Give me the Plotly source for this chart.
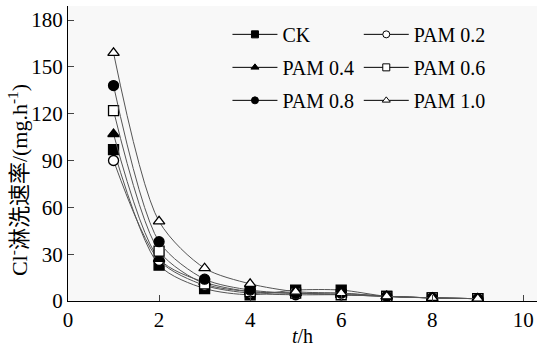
import plotly.graph_objects as go

t = [1, 2, 3, 4, 5, 6, 7, 8, 9]
ck = [97, 23, 8, 4, 7, 7, 3, 2, 1.5]
pam02 = [90, 26, 10, 5, 4, 4, 3, 2, 1.5]
pam04 = [107, 27, 12, 6, 5, 4, 3, 2, 1.5]
pam06 = [122, 32, 11, 6, 5, 4, 3, 2, 1.5]
pam08 = [138, 38, 14, 7, 5, 5, 3, 2, 1.5]
pam10 = [159, 51, 21, 11, 6, 5, 3, 2, 1.5]

names = ["CK", "PAM 0.2", "PAM 0.4", "PAM 0.6", "PAM 0.8", "PAM 1.0"]
series = [ck, pam02, pam04, pam06, pam08, pam10]
symbols = ["square", "circle", "triangle-up", "square", "circle", "triangle-up"]
fills = ["black", "white", "black", "white", "black", "white"]
legends = ["legend", "legend2", "legend", "legend2", "legend", "legend2"]

FONT = "Times New Roman, Liberation Serif, serif"
YFONT = "Times New Roman, Liberation Serif, Noto Sans CJK SC, serif"

fig = go.Figure()
for n, y, s, f in zip(names, series, symbols, fills):
    fig.add_trace(go.Scatter(
        x=t, y=y, name=n, mode="lines+markers", showlegend=False,
        line=dict(color="#555555", width=1, shape="spline", smoothing=0.8),
        marker=dict(symbol=s, size=10, color=f, line=dict(color="black", width=1.3)),
    ))
# legend entries (smaller markers, as in the reference legend)
for n, s, f, lg in zip(names, symbols, fills, legends):
    fig.add_trace(go.Scatter(
        x=[None], y=[None], name=n, mode="lines+markers",
        line=dict(color="black", width=1),
        marker=dict(symbol=s, size=7, color=f, line=dict(color="black", width=1)),
        legend=lg, legendgroup=n,
    ))

leg_common = dict(font=dict(family=FONT, size=20, color="black"), bgcolor="rgba(0,0,0,0)",
                  tracegroupgap=4, yanchor="top", xanchor="left", itemwidth=45)
fig.update_layout(
    width=537, height=347,
    margin=dict(l=68, r=0, t=6, b=46, autoexpand=False),
    paper_bgcolor="white", plot_bgcolor="#f8f8f8",
    font=dict(family=FONT, size=20, color="black"),
    showlegend=True,
    legend=dict(x=0.34, y=0.97, **leg_common),
    legend2=dict(x=0.62, y=0.97, **leg_common),
    xaxis=dict(range=[0, 10.3], tickvals=[0, 2, 4, 6, 8, 10], ticks="inside", ticklen=6,
               showline=True, linecolor="black", linewidth=1.2, showgrid=False, zeroline=False,
               automargin=False,
               tickfont=dict(family=FONT, size=21), title=dict(text="<i>t</i>/h", font=dict(family=FONT, size=20), standoff=2)),
    yaxis=dict(range=[0, 189], tickvals=[0, 30, 60, 90, 120, 150, 180], ticks="inside", ticklen=6,
               showline=True, linecolor="black", linewidth=1.2, showgrid=False, zeroline=False,
               automargin=False, tickfont=dict(family=FONT, size=21)),
    annotations=[dict(text="Cl<sup>-</sup>淋洗速率/(mg.h<sup>-1</sup>)", textangle=-90,
                      xref="paper", yref="paper", x=-0.1066, y=0.41,
                      xanchor="center", yanchor="middle", showarrow=False,
                      font=dict(family=YFONT, size=22, color="black"))],
)
fig.write_html("out.html")
